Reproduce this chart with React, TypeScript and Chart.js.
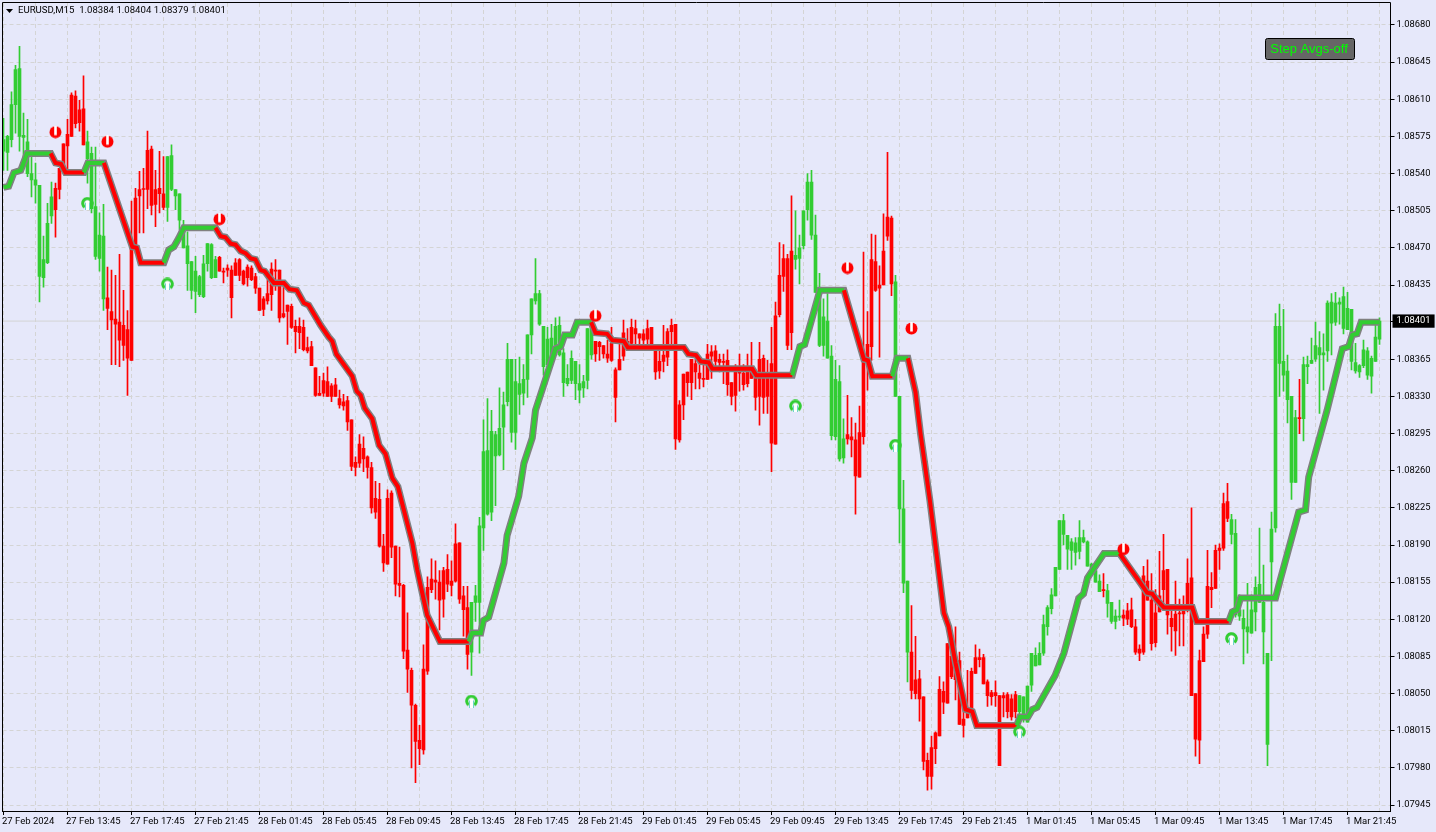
import React, { useEffect, useRef } from "react";
import { Chart, registerables } from "chart.js";

Chart.register(...registerables);

// All price arrays are in points above 1.00000 (8384 = 1.08384). Index = M15 bar number.
const highs = [
  8592,8576,8617,8642,8660,8597,8591,8556,8550,8529,
  8481,8512,8532,8531,8545,8568,8591,8616,8618,8609,
  8632,8580,8565,8565,8503,8511,8452,8449,8444,8464,
  8430,8411,8514,8526,8542,8545,8580,8566,8543,8561,
  8556,8556,8567,8525,8521,8496,8485,8457,8462,8444,
  8463,8474,8474,8462,8462,8451,8454,8453,8460,8460,
  8449,8454,8453,8446,8432,8424,8440,8456,8459,8449,
  8438,8416,8417,8402,8404,8402,8386,8382,8357,8349,
  8352,8358,8342,8347,8336,8332,8330,8308,8273,8294,
  8292,8274,8268,8250,8248,8200,8242,8241,8189,8188,
  8153,8126,8074,8040,8020,8096,8160,8177,8175,8166,
  8169,8181,8175,8210,8192,8151,8151,8136,8152,8216,
  8308,8328,8317,8297,8338,8334,8380,8365,8365,8367,
  8360,8388,8422,8460,8430,8396,8395,8398,8404,8405,
  8375,8360,8373,8363,8360,8350,8394,8396,8382,8382,
  8378,8383,8395,8357,8383,8402,8394,8403,8402,8389,
  8393,8402,8395,8378,8374,8397,8394,8403,8398,8326,
  8351,8353,8365,8365,8360,8360,8379,8378,8378,8370,
  8370,8374,8343,8360,8370,8360,8370,8381,8352,8381,
  8369,8364,8395,8419,8475,8473,8464,8519,8505,8482,
  8505,8540,8543,8501,8446,8422,8427,8378,8364,8359,
  8309,8331,8310,8305,8321,8466,8410,8483,8482,8453,
  8502,8560,8500,8444,8330,8251,8156,8133,8104,8072,
  8047,7994,8010,8014,8066,8061,8097,8096,8113,8089,
  8053,8072,8074,8096,8092,8087,8063,8053,8062,8048,
  8051,8051,8049,8052,8048,8047,8057,8088,8093,8098,
  8124,8133,8149,8169,8213,8219,8199,8196,8197,8213,
  8204,8194,8173,8166,8162,8163,8153,8136,8129,8138,
  8129,8135,8140,8120,8096,8170,8176,8163,8148,8184,
  8200,8167,8128,8156,8139,8142,8177,8225,8050,8091,
  8113,8185,8164,8190,8191,8239,8248,8219,8214,8143,
  8129,8154,8143,8160,8206,8171,8088,8221,8408,8417,
  8412,8369,8330,8317,8346,8367,8368,8385,8400,8391,
  8389,8420,8427,8428,8423,8433,8428,8412,8380,8360,
  8383,8376,8368,8397,8404,
];
const bodyTops = [
  8572,8575,8605,8638,8639,8576,8570,8540,8534,8529,
  8459,8493,8518,8526,8545,8568,8577,8614,8613,8600,
  8601,8570,8559,8509,8482,8481,8423,8410,8403,8400,
  8397,8393,8471,8517,8525,8525,8562,8563,8525,8526,
  8521,8556,8557,8525,8521,8490,8472,8457,8448,8443,
  8455,8474,8473,8459,8461,8448,8451,8449,8456,8459,
  8448,8452,8451,8443,8432,8422,8427,8450,8449,8449,
  8408,8416,8415,8396,8396,8395,8376,8377,8357,8333,
  8345,8344,8340,8341,8328,8325,8326,8308,8268,8285,
  8281,8273,8263,8234,8233,8189,8234,8239,8189,8154,
  8152,8091,8072,8039,8006,8073,8150,8158,8157,8155,
  8166,8167,8156,8191,8192,8142,8131,8136,8142,8208,
  8278,8279,8297,8294,8300,8322,8365,8365,8344,8342,
  8346,8388,8422,8427,8427,8396,8384,8385,8396,8397,
  8371,8347,8366,8363,8342,8344,8394,8396,8382,8381,
  8378,8370,8380,8355,8365,8390,8382,8395,8394,8389,
  8389,8394,8395,8378,8363,8369,8391,8397,8398,8322,
  8351,8353,8365,8361,8352,8346,8370,8372,8373,8365,
  8363,8364,8343,8353,8354,8352,8353,8353,8352,8365,
  8366,8351,8361,8406,8444,8460,8460,8467,8463,8470,
  8505,8532,8532,8482,8428,8405,8401,8368,8346,8344,
  8290,8294,8292,8289,8296,8363,8379,8459,8457,8435,
  8467,8499,8498,8438,8330,8224,8156,8089,8063,8064,
  8047,7987,7999,8013,8054,8052,8097,8085,8082,8081,
  8026,8035,8071,8084,8084,8084,8061,8051,8051,8048,
  8048,8049,8045,8049,8048,8047,8057,8088,8086,8088,
  8115,8131,8143,8169,8213,8213,8199,8193,8192,8197,
  8197,8193,8172,8166,8156,8148,8147,8136,8123,8123,
  8124,8128,8129,8113,8092,8161,8156,8138,8126,8142,
  8166,8167,8121,8125,8126,8129,8154,8159,8050,8081,
  8106,8151,8150,8185,8187,8229,8231,8214,8201,8129,
  8121,8113,8129,8150,8153,8136,8088,8205,8396,8396,
  8363,8354,8330,8310,8310,8360,8360,8364,8378,8376,
  8371,8418,8419,8418,8419,8424,8413,8412,8362,8359,
  8374,8373,8366,8386,8401,
];
const bodyBottoms = [
  8561,8560,8572,8605,8575,8574,8540,8534,8529,8443,
  8442,8456,8500,8506,8525,8543,8566,8575,8587,8588,
  8567,8554,8507,8462,8460,8422,8413,8402,8398,8383,
  8378,8366,8364,8471,8519,8525,8525,8510,8511,8521,
  8508,8508,8525,8519,8496,8470,8455,8430,8429,8426,
  8424,8455,8442,8442,8448,8447,8449,8423,8444,8444,
  8436,8442,8440,8432,8411,8412,8420,8426,8448,8404,
  8405,8410,8395,8391,8390,8374,8373,8359,8331,8331,
  8333,8330,8330,8330,8322,8321,8306,8264,8263,8267,
  8271,8263,8225,8221,8189,8173,8172,8188,8153,8152,
  8090,8073,8039,8005,7998,7997,8071,8148,8155,8138,
  8139,8153,8152,8156,8139,8129,8087,8089,8136,8136,
  8206,8219,8221,8274,8275,8301,8325,8296,8296,8332,
  8333,8346,8388,8420,8398,8358,8360,8364,8378,8369,
  8343,8342,8345,8342,8336,8338,8345,8369,8370,8377,
  8370,8366,8364,8329,8355,8368,8380,8380,8389,8385,
  8383,8384,8376,8353,8354,8363,8367,8391,8290,8289,
  8322,8343,8343,8353,8347,8346,8346,8368,8363,8362,
  8362,8341,8330,8331,8352,8341,8342,8347,8329,8330,
  8329,8330,8286,8285,8407,8443,8378,8390,8459,8460,
  8472,8506,8482,8428,8378,8378,8366,8293,8292,8271,
  8272,8290,8289,8255,8254,8292,8364,8377,8430,8432,
  8435,8481,8436,8330,8224,8154,8089,8053,8050,8045,
  7986,7972,7972,7998,8010,8042,8041,8066,8063,8021,
  8020,8027,8035,8069,8082,8059,8048,8047,8048,7982,
  8046,8033,8028,8033,8033,8030,8023,8058,8076,8077,
  8088,8113,8130,8142,8167,8200,8186,8185,8183,8184,
  8193,8170,8168,8155,8146,8147,8135,8118,8118,8122,
  8121,8120,8113,8089,8088,8089,8138,8097,8098,8127,
  8148,8124,8113,8109,8125,8125,8133,8048,8007,8006,
  8080,8106,8148,8149,8185,8187,8215,8200,8124,8123,
  8111,8108,8107,8127,8136,8108,8002,8174,8206,8361,
  8350,8327,8249,8249,8309,8309,8358,8361,8365,8369,
  8369,8373,8399,8400,8417,8394,8393,8363,8354,8353,
  8359,8350,8349,8363,8384,
];
const lows = [
  8543,8543,8565,8578,8561,8556,8537,8518,8512,8419,
  8433,8455,8493,8480,8516,8543,8540,8575,8583,8580,
  8567,8531,8503,8459,8448,8411,8393,8360,8360,8358,
  8364,8331,8364,8465,8484,8484,8507,8501,8490,8503,
  8506,8495,8524,8506,8487,8470,8430,8422,8409,8424,
  8423,8448,8441,8442,8448,8437,8443,8404,8444,8439,
  8435,8434,8439,8427,8411,8406,8417,8411,8430,8400,
  8404,8379,8394,8371,8375,8373,8371,8359,8330,8331,
  8330,8330,8325,8330,8319,8317,8298,8260,8255,8263,
  8259,8253,8220,8215,8188,8165,8172,8178,8142,8141,
  8083,8051,7980,7966,7983,7993,8068,8145,8139,8110,
  8122,8146,8142,8155,8135,8104,8073,8067,8118,8088,
  8185,8218,8213,8227,8274,8261,8321,8287,8280,8313,
  8322,8329,8370,8417,8397,8350,8359,8360,8374,8368,
  8330,8340,8342,8327,8324,8329,8337,8365,8363,8364,
  8366,8362,8363,8306,8355,8364,8380,8378,8379,8378,
  8376,8375,8376,8346,8347,8353,8359,8379,8280,8287,
  8308,8330,8327,8337,8337,8339,8346,8347,8355,8353,
  8342,8331,8322,8316,8335,8336,8339,8347,8317,8303,
  8314,8314,8259,8285,8405,8429,8374,8374,8450,8436,
  8469,8496,8478,8428,8377,8368,8366,8289,8289,8269,
  8267,8285,8273,8219,8254,8285,8336,8364,8429,8367,
  8435,8477,8425,8330,8192,8145,8061,8045,8045,8024,
  7978,7959,7960,7984,8010,8031,8041,8064,8044,8021,
  8009,8027,8031,8069,8075,8059,8038,8039,8038,7982,
  8028,8027,8025,8027,8023,8023,8023,8052,8076,8077,
  8086,8105,8125,8142,8167,8190,8167,8167,8171,8177,
  8192,8170,8163,8155,8146,8141,8122,8116,8111,8119,
  8114,8115,8112,8087,8081,8087,8138,8091,8094,8127,
  8131,8106,8090,8086,8095,8095,8127,8048,7991,7984,
  8080,8102,8131,8149,8167,8185,8212,8191,8122,8119,
  8078,8088,8107,8109,8136,8078,7982,8081,8202,8330,
  8335,8305,8233,8249,8295,8288,8342,8361,8363,8314,
  8336,8363,8369,8397,8398,8389,8393,8355,8352,8348,
  8357,8346,8333,8363,8379,
];
const bullRuns = [[0,12],[21,25],[41,53],[117,147],[198,210],[223,226],[254,274],[276,279],[307,323],[325,344]];

// Step-average indicator: bar numbers and prices of its vertices.
const stepBars = [
  0,1.3,2.6,4.3,5.9,11.8,13,14.4,15.5,20.1,21.1,25.1,32.2,33.3,34.3,40.1,41.3,42.6,43.8,45.1,53,
  54.3,55.5,56.8,58,59.3,60.5,61.8,63,64.3,65.3,66.3,67.6,70.1,71.5,73.3,75.1,76.3,79.3,81.3,82.2,83.2,87.2,88.3,89.3,90.3,92.2,93.9,95.5,97.2,98.6,
  102.2,103.4,105.9,109.1,116.3,117.2,119.3,120,121.3,125.1,125.9,128.8,130.1,132.2,133,138,139.3,140.3,142.2,143.4,146.9,
  148,150.9,152.2,155.1,156.1,170.1,171.2,173.1,174.3,176.3,177.2,187.2,188.2,197.2,199.1,200.3,204.1,210.1,215.1,216.1,217.2,222.2,223.4,226.1,228,229.25,
  231.6,235.1,236.3,238,240.5,242.2,243.3,253.3,254.1,256.1,257.2,258.4,262.9,265.1,268.8,270,271,275.1,279,
  284.25,285.9,287.2,288.4,290.1,297.2,298.3,306.3,307.2,308.4,309.25,318,319.1,323.8,325.5,326.3,330.9,334.7,336.3,337.2,338.4,339.4,344,
];
const stepPrices = [
  8527,8528,8541,8543,8559,8559,8550,8549,8541,8541,8550,8550,8471,8470,8456,8456,8468,8471,8479,8489,8489,
  8481,8480,8474,8473,8467,8465,8460,8459,8449,8448,8443,8437,8437,8431,8430,8418,8416,8397,8386,8382,8370,8349,8335,8331,8319,8309,8284,8276,8253,8245,
  8192,8167,8124,8099,8099,8107,8107,8119,8122,8173,8199,8236,8267,8291,8317,8375,8377,8388,8388,8400,8400,
  8390,8389,8383,8382,8376,8376,8370,8369,8363,8362,8356,8356,8350,8350,8377,8379,8430,8430,8365,8364,8349,8349,8366,8366,8334,8295,
  8232,8126,8113,8079,8035,8033,8020,8020,8028,8028,8035,8037,8067,8088,8140,8144,8159,8182,8182,
  8154,8145,8144,8138,8131,8131,8118,8118,8127,8129,8140,8140,8156,8221,8223,8254,8317,8375,8377,8388,8389,8400,8400,
];
// Bar numbers where the indicator flips colour, beginning in its rising state.
const stepFlips = [11.8,20.1,25.1,40.1,53,116.3,146.9,197.2,210.1,222.2,226.1,253.3,279,306.3];

const sellBars = [13,26,54,148,211,227,280];
const sellPrices = [8579,8570,8497,8406,8451,8394,8186];
const buyBars = [21,41,117,198,223,254,307];
const buyPrices = [8512,8436,8043,8321,8284,8014,8102];

const priceTicks = [8680,8645,8610,8575,8540,8505,8470,8435,8401,8365,8330,8295,8260,8225,8190,8155,8120,8085,8050,8015,7980,7945];
const lastPrice = 8401;
const timeLabels = [
  "27 Feb 2024","27 Feb 13:45","27 Feb 17:45","27 Feb 21:45","28 Feb 01:45","28 Feb 05:45","28 Feb 09:45","28 Feb 13:45",
  "28 Feb 17:45","28 Feb 21:45","29 Feb 01:45","29 Feb 05:45","29 Feb 09:45","29 Feb 13:45","29 Feb 17:45","29 Feb 21:45",
  "1 Mar 01:45","1 Mar 05:45","1 Mar 09:45","1 Mar 13:45","1 Mar 17:45","1 Mar 21:45",
];
const titleText = "EURUSD,M15  1.08384 1.08404 1.08379 1.08401";
const buttonText = "Step Avgs-off";

const BG = "#E6E8FA";
const GREEN = "#32CD32";
const RED = "#FF0000";
const GRID = "#D4D4D4";
const FONT = "Roboto";

const px = (v: number) => 1 + v / 100000;
const isBull = (k: number) => bullRuns.some(([a, b]) => k >= a && k <= b);

function sellIcon() {
  const c = document.createElement("canvas");
  c.width = c.height = 13;
  const g = c.getContext("2d")!;
  g.fillStyle = RED;
  g.beginPath(); g.arc(6.5, 6.5, 6, 0, Math.PI * 2); g.fill();
  g.fillStyle = "#FFFFFF";
  g.fillRect(5.2, 0, 2.6, 9.5);
  return c;
}
function buyIcon() {
  const c = document.createElement("canvas");
  c.width = c.height = 13;
  const g = c.getContext("2d")!;
  g.strokeStyle = GREEN;
  g.lineWidth = 3;
  g.beginPath(); g.arc(6.5, 6.5, 4.8, Math.PI * 0.7, Math.PI * 2.3); g.stroke();
  g.fillStyle = "#FFFFFF";
  g.fillRect(5, 4, 3, 9);
  g.fillStyle = "#6FD6C8";
  g.fillRect(4, 6, 1, 7);
  g.fillRect(8, 6, 1, 7);
  return c;
}

const overlay = {
  id: "overlay",
  afterDraw(chart: any) {
    const { ctx, chartArea: a } = chart;
    ctx.save();
    ctx.strokeStyle = "#000";
    ctx.lineWidth = 1;
    ctx.beginPath();
    ctx.moveTo(2.5, 811.5); ctx.lineTo(2.5, 2.5); ctx.lineTo(a.right, 2.5); ctx.lineTo(a.right, 811.5);
    ctx.stroke();
    // title
    ctx.fillStyle = "#000";
    ctx.beginPath(); ctx.moveTo(6, 9); ctx.lineTo(13, 9); ctx.lineTo(9.5, 13); ctx.closePath(); ctx.fill();
    ctx.font = `9.6px ${FONT}`;
    ctx.textBaseline = "middle";
    ctx.textAlign = "left";
    ctx.fillText(titleText, 18, 10.5);
    // button
    ctx.fillStyle = "#666666";
    ctx.beginPath(); ctx.roundRect(1265.5, 38.5, 89, 21, 2); ctx.fill(); ctx.stroke();
    ctx.fillStyle = "#00FF00";
    ctx.font = '13px "Liberation Sans"';
    ctx.textAlign = "center";
    ctx.fillText(buttonText, 1309, 49.5);
    ctx.restore();
  },
};

export default function App() {
  const ref = useRef<HTMLCanvasElement>(null);
  useEffect(() => {
    document.body.style.background = BG;
    document.body.style.margin = "0";
    const bars = highs.map((_, k) => k);
    const colors = bars.map((k) => (isBull(k) ? GREEN : RED));
    const stepData = stepBars.map((x, i) => ({ x, y: px(stepPrices[i]) }));
    const stepColor = (c: any) => {
      const n = stepFlips.filter((f) => f <= c.p0.parsed.x + 0.001).length;
      return n % 2 === 0 ? GREEN : RED;
    };
    const chart = new Chart(ref.current!, {
      type: "bar",
      data: {
        datasets: [
          {
            type: "line",
            data: [{ x: -0.25, y: px(lastPrice) }, { x: 346.75, y: px(lastPrice) }],
            borderColor: GRID, borderWidth: 1, pointRadius: 0, order: 6,
          },
          {
            type: "bar",
            data: bars.map((k) => ({ x: k, y: [px(lows[k]), px(highs[k])] })),
            backgroundColor: colors, borderWidth: 0, grouped: false,
            barPercentage: 1, categoryPercentage: 1, maxBarThickness: 1, order: 5,
          },
          {
            type: "bar",
            data: bars.map((k) => ({ x: k, y: [px(bodyBottoms[k]), px(bodyTops[k])] })),
            backgroundColor: colors, borderWidth: 0, grouped: false,
            barPercentage: 1, categoryPercentage: 1, maxBarThickness: 3, minBarLength: 1, order: 4,
          },
          {
            type: "line", data: stepData, borderColor: "#808080", borderWidth: 7,
            pointRadius: 0, tension: 0, order: 3,
          },
          {
            type: "line", data: stepData, borderColor: RED, borderWidth: 4,
            pointRadius: 0, tension: 0, order: 2, segment: { borderColor: stepColor },
          },
          {
            type: "line", data: sellBars.map((x, i) => ({ x, y: px(sellPrices[i]) })),
            showLine: false, pointStyle: sellIcon(), order: 1,
          },
          {
            type: "line", data: buyBars.map((x, i) => ({ x, y: px(buyPrices[i]) })),
            showLine: false, pointStyle: buyIcon(), order: 1,
          },
        ],
      } as any,
      options: {
        animation: false,
        responsive: false,
        events: [],
        layout: { autoPadding: false, padding: { left: 2.5, top: 3, right: 0, bottom: 0 } },
        plugins: { legend: { display: false }, tooltip: { enabled: false } },
        scales: {
          x: {
            type: "linear", min: -0.25, max: 346.75, position: "bottom", offset: false,
            afterBuildTicks: (s: any) => { s.ticks = Array.from({ length: 44 }, (_, i) => ({ value: i * 8 })); },
            afterFit: (s: any) => { s.height = 21; s.paddingLeft = 0; s.paddingRight = 0; },
            grid: {
              offset: false, color: GRID, tickLength: 4, tickBorderDash: [],
              tickColor: (c: any) => (c.index % 2 ? "transparent" : "#000"),
            },
            border: { color: "#000", dash: [4, 3] },
            ticks: {
              autoSkip: false, maxRotation: 0, minRotation: 0, align: "start", padding: 1, color: "#000",
              labelOffset: -1.5,
              font: { family: FONT, size: 9.5 },
              callback: (_: any, i: number) => (i % 2 ? "" : timeLabels[i / 2]),
            },
          },
          y: {
            type: "linear", position: "right", min: px(7939.35), max: px(8700.73),
            afterBuildTicks: (s: any) => { s.ticks = priceTicks.map((v) => ({ value: px(v) })); },
            afterFit: (s: any) => { s.width = 45.5; s.paddingTop = 0; s.paddingBottom = 0; },
            grid: {
              tickLength: 4, tickBorderDash: [], tickColor: "#000",
              color: (c: any) => (c.tick && Math.abs(c.tick.value - px(lastPrice)) < 1e-7 ? "transparent" : GRID),
            },
            border: { color: "#000", dash: [4, 3] },
            ticks: {
              padding: 2, font: { family: FONT, size: 9.4 },
              callback: (v: any) => Number(v).toFixed(5),
              color: (c: any) => (Math.abs(c.tick.value - px(lastPrice)) < 1e-7 ? "#FFF" : "#000"),
              showLabelBackdrop: (c: any) => Math.abs(c.tick.value - px(lastPrice)) < 1e-7,
              backdropColor: "#000",
              backdropPadding: { x: 4, y: 1 },
            },
          },
        },
      } as any,
      plugins: [overlay],
    });
    return () => chart.destroy();
  }, []);
  return (
    <div style={{ position: "fixed", left: 0, top: 0, width: 1436, height: 832, background: BG }}>
      <canvas ref={ref} width={1436} height={832} style={{ display: "block" }} />
    </div>
  );
}
